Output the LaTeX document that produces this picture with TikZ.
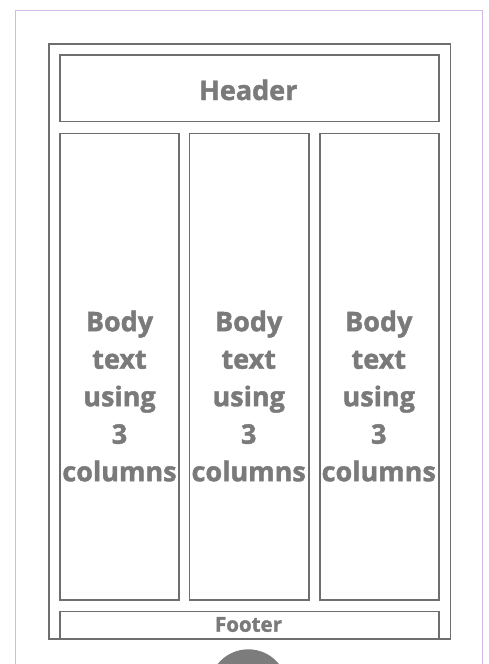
\documentclass[tikz,border=0pt]{standalone}
\usepackage{fontspec}
\setmainfont{Open Sans}[BoldFeatures={FakeBold=1.6}]
\definecolor{linegray}{HTML}{6E6E6E}
\definecolor{textgray}{HTML}{7A7A7A}
\definecolor{lilac}{HTML}{D2B8E6}
\tikzset{
  panel/.style={draw=linegray, line width=1.3pt},
  bodytxt/.style={text=textgray, font=\bfseries\fontsize{27}{37.5}\selectfont, align=center, inner sep=0pt},
}
\begin{document}
\begin{tikzpicture}[x=1pt,y=-1pt]
\useasboundingbox (0,0) rectangle (488,664);
\begin{scope}
\clip (0,0) rectangle (488,664);
\draw[lilac, line width=1pt] (15.3,690) -- (15.3,10.7) -- (482,10.7) -- (482,690);
\node[panel, minimum width=401.7pt, minimum height=595pt, inner sep=0pt, anchor=north west] (frame) at (48.3,43.3) {};
\node[panel, minimum width=379pt, minimum height=66.7pt, inner sep=0pt, anchor=north west] (header) at (59.3,54.3) {};
\node[text=textgray, font=\bfseries\fontsize{27}{30}\selectfont, inner sep=0pt, anchor=base] (htxt) at (248.3,100) {Header};
\node[panel, minimum width=119pt, minimum height=466.6pt, inner sep=0pt, anchor=north west] (c1) at (59.3,132.7) {};
\node[panel, minimum width=119.3pt, minimum height=466.6pt, inner sep=0pt, anchor=north west] (c2) at (189,132.7) {};
\node[panel, minimum width=119pt, minimum height=466.6pt, inner sep=0pt, anchor=north west] (c3) at (319.3,132.7) {};
\node[bodytxt, anchor=north] (t1) at (119.5,310.5) {Body\\text\\using\\3\\columns};
\node[bodytxt, anchor=north] (t2) at (248.7,310.5) {Body\\text\\using\\3\\columns};
\node[bodytxt, anchor=north] (t3) at (378.8,310.5) {Body\\text\\using\\3\\columns};
\node[panel, minimum width=379pt, minimum height=27.3pt, inner sep=0pt, anchor=north west] (footer) at (59.3,611) {};
\node[text=textgray, font=\bfseries\fontsize{20.5}{24}\selectfont, inner sep=0pt, anchor=base] (ftxt) at (248.5,631.7) {Footer};
\fill[linegray!90] (248.3,688.5) circle (39.2) node (dot) {};
\end{scope}
\end{tikzpicture}
\end{document}
